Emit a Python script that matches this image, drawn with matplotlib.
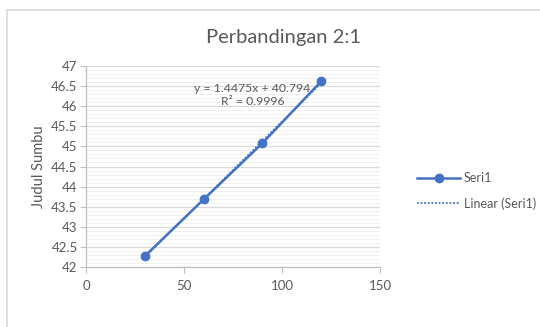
import matplotlib.pyplot as plt
import numpy as np
from matplotlib.lines import Line2D
from matplotlib.patches import Rectangle

# Data
x_vals = [30, 60, 90, 120]
y_vals = [42.27, 43.68, 45.08, 46.62]
title = "Perbandingan 2:1"
y_label = "Judul Sumbu"
eq_text = "y = 1.4475x + 40.794\nR² = 0.9996"

blue = "#4472C4"
gray_txt = "#595959"

plt.rcParams['font.family'] = ['Lato', 'DejaVu Sans']

fig = plt.figure(figsize=(5.4, 3.27), dpi=100)

# Chart area border (only top and left visible)
fig.patches.append(Rectangle((7 / 540, -0.1), 1.2, (327 - 10) / 327 + 0.1,
                             transform=fig.transFigure, fill=False,
                             edgecolor="#D9D9D9", linewidth=1.2))

ax = fig.add_axes([86 / 540, (327 - 267) / 327, (380 - 86) / 540, (267 - 66) / 327])

ax.set_xlim(0, 150)
ax.set_ylim(42, 47)
ax.set_xticks([0, 50, 100, 150])
ax.set_yticks(np.arange(42, 47.01, 0.5))
ax.set_yticklabels(["42", "42.5", "43", "43.5", "44", "44.5", "45", "45.5", "46", "46.5", "47"])
ax.set_yticks(np.arange(42, 47.01, 0.1), minor=True)

ax.grid(which="major", axis="y", color="#D9D9D9", linewidth=0.9)
ax.grid(which="minor", axis="y", color="#F0F0F0", linewidth=0.7)
ax.set_axisbelow(True)

for s in ["top", "right"]:
    ax.spines[s].set_visible(False)
for s in ["left", "bottom"]:
    ax.spines[s].set_color("#BFBFBF")
    ax.spines[s].set_linewidth(0.9)

ax.tick_params(axis="both", which="major", colors="#BFBFBF", labelcolor=gray_txt,
               labelsize=9.5, length=4, width=0.8)
ax.tick_params(axis="y", which="minor", length=0)
ax.tick_params(axis="x", pad=5)
ax.tick_params(axis="y", pad=2)

# Series
ax.plot(x_vals, y_vals, color=blue, linewidth=1.8, marker="o", markersize=6, zorder=3)

# Linear trendline
coef = np.polyfit(x_vals, y_vals, 1)
xt = np.array([x_vals[0], x_vals[-1]])
ax.plot(xt, np.polyval(coef, xt), color=blue, linewidth=1.3, linestyle=(0, (1, 1)), zorder=2)

ax.text(85, 46.28, eq_text, ha="center", va="center",
        fontsize=8.8, color=gray_txt, linespacing=1.25)

ax.set_ylabel(y_label, fontsize=10.5, color=gray_txt, labelpad=4)
fig.text(283 / 540, 1 - 38 / 327, title, ha="center", va="center",
         fontsize=14.5, color=gray_txt)

# Legend
handles = [Line2D([0], [0], color=blue, linewidth=1.8, marker="o", markersize=6),
           Line2D([0], [0], color=blue, linewidth=1.3, linestyle=(0, (1, 1)))]
fig.legend(handles, ["Seri1", "Linear (Seri1)"], loc="center left",
           bbox_to_anchor=(406 / 540, 1 - 191 / 327), frameon=False,
           fontsize=9, labelcolor=gray_txt, handlelength=3.4,
           handletextpad=0.3, labelspacing=1.0)

fig.savefig("out.png", dpi=100)
